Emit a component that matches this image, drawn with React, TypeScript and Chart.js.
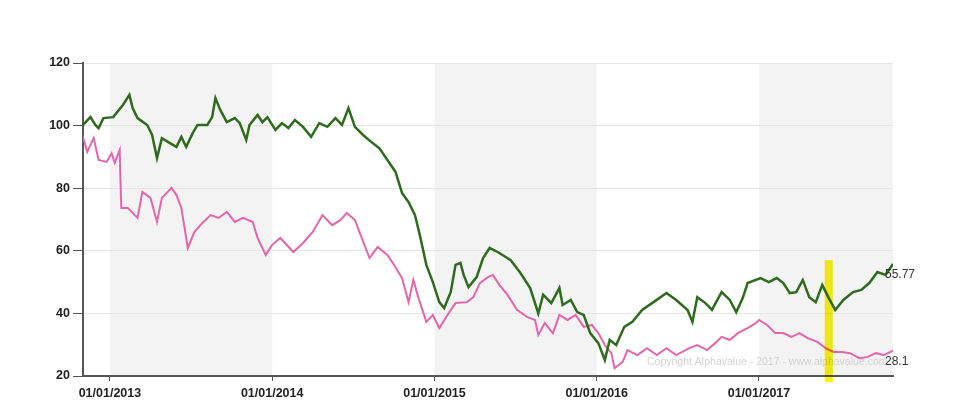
import { useEffect, useRef } from "react";
import { Chart, registerables } from "chart.js";

Chart.register(...registerables);

// Decimal-year positions and values of the two series
const greenYears = [
  2012.83, 2012.88, 2012.91, 2012.93, 2012.96, 2013.02, 2013.08, 2013.12, 2013.14, 2013.17,
  2013.23, 2013.26, 2013.29, 2013.32, 2013.37, 2013.41, 2013.44, 2013.47, 2013.51, 2013.54,
  2013.6, 2013.63, 2013.65, 2013.68, 2013.72, 2013.77, 2013.8, 2013.84, 2013.86, 2013.91,
  2013.94, 2013.97, 2014.02, 2014.06, 2014.1, 2014.14, 2014.19, 2014.24, 2014.29, 2014.34,
  2014.39, 2014.43, 2014.47, 2014.51, 2014.56, 2014.61, 2014.66, 2014.71, 2014.76, 2014.8,
  2014.84, 2014.88, 2014.91, 2014.95, 2014.99, 2015.03, 2015.06, 2015.1, 2015.13, 2015.16,
  2015.18, 2015.21, 2015.26, 2015.3, 2015.34, 2015.4, 2015.47, 2015.53, 2015.59, 2015.64,
  2015.67, 2015.72, 2015.77, 2015.79, 2015.84, 2015.88, 2015.92, 2015.96, 2016.01, 2016.05,
  2016.08, 2016.12, 2016.17, 2016.22, 2016.28, 2016.35, 2016.43, 2016.49, 2016.56, 2016.59,
  2016.62, 2016.67, 2016.71, 2016.77, 2016.82, 2016.86, 2016.9, 2016.93, 2017.01, 2017.06,
  2017.11, 2017.15, 2017.19, 2017.23, 2017.27, 2017.31, 2017.35, 2017.39, 2017.43, 2017.47,
  2017.52, 2017.58, 2017.63, 2017.68, 2017.73, 2017.78, 2017.826,
];
const greenValues = [
  100, 102.7, 100.2, 99.2, 102.4, 102.7, 106.6, 109.8, 105.6, 102.4,
  100.2, 97, 89.6, 96, 94.4, 93.2, 96.4, 93.2, 97.6, 100.2,
  100.2, 102.7, 108.8, 105, 101.1, 102.4, 100.8, 95.4, 100.2, 103.4,
  101.1, 102.7, 98.6, 100.8, 99.2, 101.8, 99.6, 96.4, 100.8, 99.6,
  102.4, 100.2, 105.6, 99.6, 97, 94.8, 92.8, 89, 85.2, 78.5,
  75.6, 71.4, 65, 55.5, 50, 43.6, 41.7, 46.8, 55.5, 56.1,
  52.3, 48.4, 51.6, 57.7, 60.9, 59.3, 57, 52.9, 48.1, 40,
  46, 43.3, 48.1, 42.7, 44.3, 40.4, 39.5, 33.7, 30.5, 25.1,
  31.5, 29.9, 35.7, 37.3, 41.1, 43.6, 46.5, 44.3, 41.1, 37.3,
  45.2, 43.3, 41.1, 46.8, 44.3, 40.4, 44.9, 49.7, 51.3, 50,
  51.3, 49.7, 46.5, 46.8, 50.7, 45.2, 43.6, 49.1, 44.9, 41.1,
  44.3, 46.8, 47.5, 49.7, 53.2, 52.3, 55.77,
];

const pinkYears = [
  2012.83, 2012.86, 2012.9, 2012.93, 2012.98, 2013.01, 2013.03, 2013.06, 2013.07, 2013.11,
  2013.17, 2013.2, 2013.25, 2013.29, 2013.32, 2013.38, 2013.41, 2013.44, 2013.48, 2013.52,
  2013.57, 2013.62, 2013.67, 2013.72, 2013.77, 2013.82, 2013.88, 2013.91, 2013.96, 2014.0,
  2014.05, 2014.13, 2014.19, 2014.25, 2014.31, 2014.37, 2014.42, 2014.46, 2014.51, 2014.55,
  2014.6, 2014.65, 2014.71, 2014.74, 2014.8, 2014.84, 2014.87, 2014.9, 2014.95, 2014.99,
  2015.03, 2015.08, 2015.13, 2015.2, 2015.24, 2015.28, 2015.33, 2015.36, 2015.4, 2015.45,
  2015.51, 2015.57, 2015.62, 2015.64, 2015.68, 2015.73, 2015.77, 2015.82, 2015.87, 2015.92,
  2015.97, 2016.01, 2016.05, 2016.09, 2016.11, 2016.16, 2016.19, 2016.25, 2016.31, 2016.37,
  2016.43, 2016.49, 2016.57, 2016.62, 2016.68, 2016.73, 2016.77, 2016.82, 2016.87, 2016.93,
  2016.98, 2017.0, 2017.05, 2017.1, 2017.15, 2017.2, 2017.25, 2017.3, 2017.36, 2017.41,
  2017.46, 2017.51, 2017.56, 2017.62, 2017.67, 2017.72, 2017.77, 2017.826,
];
const pinkValues = [
  97, 91.6, 96, 89, 88.4, 91.2, 88.1, 92.2, 73.7, 73.7,
  70.5, 78.8, 76.9, 69.2, 76.9, 80.1, 77.8, 73.7, 60.9, 66,
  68.9, 71.4, 70.5, 72.4, 69.2, 70.5, 69.2, 64.1, 58.7, 61.9,
  64.1, 59.6, 62.5, 66, 71.4, 68.2, 69.8, 72.1, 69.8, 64.4,
  57.7, 61.2, 58.7, 56.4, 51.3, 43.6, 50.7, 45.2, 37.3, 39.5,
  35.3, 39.5, 43.3, 43.6, 45.2, 49.7, 51.6, 52.3, 49.1, 45.9,
  41.1, 38.9, 37.9, 33.1, 36.9, 33.7, 39.5, 37.9, 39.5, 35.7,
  36.3, 33.7, 29.9, 27.3, 22.5, 24.5, 28.3, 26.7, 28.9, 26.7,
  28.9, 26.7, 28.9, 29.9, 28.3, 30.5, 32.5, 31.5, 33.7, 35.3,
  36.9, 37.9, 36.3, 33.7, 33.7, 32.5, 33.7, 32.1, 30.9, 28.9,
  27.7, 27.7, 27.3, 25.7, 26.1, 27.3, 26.7, 28.1,
];

const xTickYears = [2013, 2014, 2015, 2016, 2017];
const shadedYearPairs = [
  [2013, 2014],
  [2015, 2016],
  [2017, 2018],
];
const highlightYear = 2017.43;
const highlightValueRange = [18, 57];
const watermarkText = "Copyright Alphavalue - 2017 - www.alphavalue.com";
const xMinYear = 2012.834;
const xMaxYear = 2017.826;

const GREEN = "#2f6b1e";
const PINK = "#e466aa";

const decorPlugin = {
  id: "decor",
  beforeDraw(chart: any) {
    const { ctx, chartArea, scales } = chart;
    const { left, right, top, bottom } = chartArea;
    ctx.save();
    ctx.fillStyle = "#f3f3f3";
    for (const [a, b] of shadedYearPairs) {
      const x0 = Math.max(left, scales.x.getPixelForValue(a));
      const x1 = Math.min(right, scales.x.getPixelForValue(b));
      if (x1 > x0) ctx.fillRect(x0, top, x1 - x0, bottom - top);
    }
    ctx.restore();
  },
  beforeDatasetsDraw(chart: any) {
    const { ctx, scales } = chart;
    ctx.save();
    ctx.font = "10.5px 'Liberation Sans', Arial, sans-serif";
    ctx.fillStyle = "#d3d3d3";
    ctx.textAlign = "left";
    ctx.textBaseline = "middle";
    ctx.fillText(watermarkText, scales.x.getPixelForValue(2016.31), scales.y.getPixelForValue(20) - 14);
    ctx.restore();
  },
  afterDatasetsDraw(chart: any) {
    const { ctx, scales } = chart;
    ctx.save();
    // highlight bar
    const hx = scales.x.getPixelForValue(highlightYear);
    const hy0 = scales.y.getPixelForValue(highlightValueRange[1]);
    const hy1 = scales.y.getPixelForValue(highlightValueRange[0]);
    ctx.globalCompositeOperation = "multiply";
    ctx.fillStyle = "#faf20f";
    ctx.fillRect(hx - 4, hy0, 8, hy1 - hy0);
    ctx.globalCompositeOperation = "source-over";
    // end labels
    ctx.font = "12px 'Liberation Sans', Arial, sans-serif";
    ctx.fillStyle = "#333";
    ctx.textAlign = "left";
    ctx.textBaseline = "middle";
    chart.data.datasets.forEach((ds: any) => {
      const last = ds.data[ds.data.length - 1];
      const px = scales.x.getPixelForValue(last.x);
      const py = scales.y.getPixelForValue(last.y);
      ctx.fillText(String(last.y), px - 8, py + 11);
    });
    ctx.restore();
  },
};

export default function App() {
  const ref = useRef<HTMLCanvasElement | null>(null);

  useEffect(() => {
    if (!ref.current) return;
    Chart.defaults.font.family = "'Liberation Sans', Arial, sans-serif";
    const chart = new Chart(ref.current, {
      type: "line",
      data: {
        datasets: [
          {
            label: "A",
            data: greenYears.map((x, i) => ({ x, y: greenValues[i] })),
            borderColor: GREEN,
            borderWidth: 2.5,
            pointRadius: 0,
            tension: 0,
            fill: false,
          },
          {
            label: "B",
            data: pinkYears.map((x, i) => ({ x, y: pinkValues[i] })),
            borderColor: PINK,
            borderWidth: 2,
            pointRadius: 0,
            tension: 0,
            fill: false,
          },
        ],
      },
      options: {
        responsive: false,
        animation: false,
        devicePixelRatio: 1,
        layout: { padding: { top: 63, right: 67, left: 0, bottom: 0 } },
        plugins: {
          legend: { display: false },
          tooltip: { enabled: false },
        },
        scales: {
          x: {
            type: "linear",
            min: xMinYear,
            max: xMaxYear,
            afterBuildTicks: (scale: any) => {
              scale.ticks = xTickYears.map((v) => ({ value: v }));
            },
            afterFit: (scale: any) => {
              scale.height = 24;
            },
            grid: {
              drawOnChartArea: false,
              drawTicks: true,
              tickLength: 5,
              tickColor: "#555",
            },
            border: { color: "#555", width: 2 },
            ticks: {
              autoSkip: false,
              maxRotation: 0,
              padding: 5,
              color: "#222",
              font: { size: 12.5, weight: "bold" },
              callback: (v: any) => `01/01/${v}`,
            },
          },
          y: {
            min: 20,
            max: 120,
            afterFit: (scale: any) => {
              scale.width = 83;
            },
            grid: {
              color: "#e6e6e6",
              tickColor: "#555",
              tickLength: 10,
            },
            border: { color: "#555", width: 2 },
            ticks: {
              stepSize: 20,
              padding: 3,
              color: "#222",
              font: { size: 12.5, weight: "bold" },
            },
          },
        },
      },
      plugins: [decorPlugin],
    });
    return () => chart.destroy();
  }, []);

  return (
    <canvas
      ref={ref}
      width={960}
      height={400}
      style={{ position: "absolute", left: 0, top: 0, width: 960, height: 400 }}
    />
  );
}
